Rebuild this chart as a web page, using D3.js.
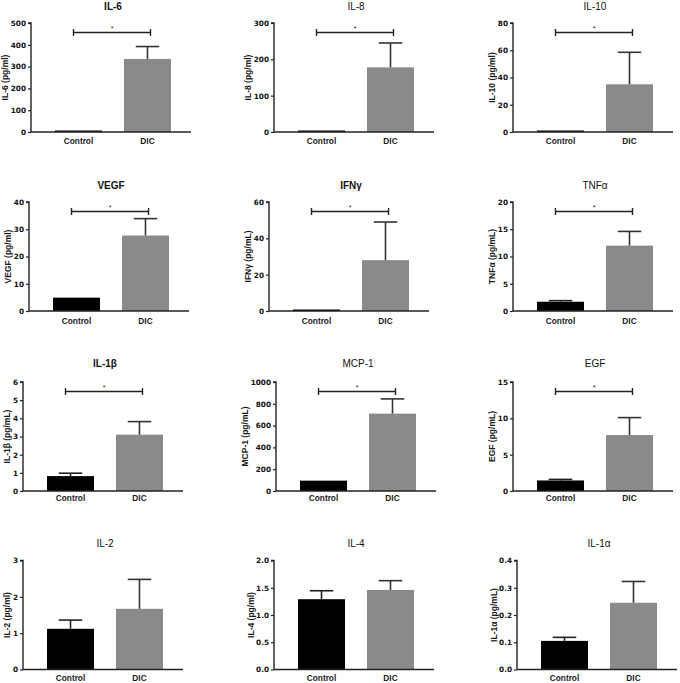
<!DOCTYPE html>
<html><head><meta charset="utf-8">
<script src="https://cdn.jsdelivr.net/npm/d3@7"></script>
<style>body{margin:0;background:#fff}svg{display:block}</style>
</head><body>
<svg id="chart" width="680" height="683"></svg>
<script>
// ---- data ----
const panelNames = ["IL-6","IL-8","IL-10","VEGF","IFNγ","TNFα","IL-1β","MCP-1","EGF","IL-2","IL-4","IL-1α"];
const yAxisLabels = ["IL-6  (pg/ml)","IL-8  (pg/ml)","IL-10  (pg/ml)","VEGF  (pg/ml)","IFNγ (pg/mL)","TNFα (pg/mL)","IL-1β (pg/mL)","MCP-1 (pg/mL)","EGF (pg/mL)","IL-2  (pg/ml)","IL-4  (pg/ml)","IL-1α (pg/mL)"];
const categories = ["Control","DIC"];
const controlMean = [3, 3, 1, 4.9, 0.3, 1.7, 0.82, 95, 1.45, 1.12, 1.29, 0.105];
const controlSem  = [0.5, 0.5, 0.2, 0.2, 0.1, 0.2, 0.16, 5, 0.15, 0.24, 0.155, 0.013];
const dicMean = [335, 178, 35, 27.7, 28, 12, 3.1, 710, 7.7, 1.67, 1.46, 0.245];
const dicSem  = [57, 67, 23.5, 6.2, 21, 2.6, 0.72, 135, 2.4, 0.81, 0.17, 0.078];
const yMax = [500, 300, 80, 40, 60, 20, 6, 1000, 15, 3, 2.0, 0.4];
const yTicks = [
  [0,100,200,300,400,500],
  [0,100,200,300],
  [0,20,40,60,80],
  [0,10,20,30,40],
  [0,20,40,60],
  [0,5,10,15,20],
  [0,1,2,3,4,5,6],
  [0,200,400,600,800,1000],
  [0,5,10,15],
  [0,1,2,3],
  [0.0,0.5,1.0,1.5,2.0],
  [0.0,0.1,0.2,0.3,0.4]
];
const tickDecimals = [0,0,0,0,0,0,0,0,0,0,1,1];
const significant = [true,true,true,true,true,true,true,true,true,false,false,false];
const boldTitle = [true,false,false,true,true,false,true,false,false,false,false,false];

// ---- layout ----
const axisXs = [31,274,513, 29,269,513, 23,276,513, 23,274,517];
const rowTop = [23, 202, 382, 560.5];
const rowBottom = [132, 311, 491, 669.5];
const titleY = [10, 189, 367, 547];
const xLabelY = [144, 324, 501, 681];
const axisLen = 160;
const font = "'Liberation Sans', Arial, sans-serif";
const tickFont = "'DejaVu Sans', sans-serif";
const dicColor = "#8a8a8a";
const ctlColor = "#000000";
const errColor = "#333333";

const svg = d3.select("#chart");

panelNames.forEach((name, i) => {
  const row = Math.floor(i / 3);
  const ax = axisXs[i];
  const top = rowTop[row], bot = rowBottom[row];
  const g = svg.append("g");

  const y = d3.scaleLinear().domain([0, yMax[i]]).range([bot, top]);
  const x = d3.scaleBand().domain(categories).range([ax, ax + 164])
    .paddingInner(0.319).paddingOuter(0.348);

  const means = [controlMean[i], dicMean[i]];
  const sems = [controlSem[i], dicSem[i]];
  const colors = [ctlColor, dicColor];

  // bars
  g.selectAll("rect.bar").data(categories).enter().append("rect")
    .attr("x", d => x(d))
    .attr("width", x.bandwidth())
    .attr("y", (d, k) => Math.min(y(means[k]), y(0) - 1.5))
    .attr("height", (d, k) => Math.max(1.5, y(0) - y(means[k])))
    .attr("fill", (d, k) => colors[k]);

  // error bars (upper only)
  categories.forEach((c, k) => {
    const cx = x(c) + x.bandwidth() / 2;
    const capW = x.bandwidth() * 0.25;
    const y1 = y(means[k]), y2 = y(means[k] + sems[k]);
    if (y1 - y2 < 1) return;
    g.append("line").attr("x1", cx).attr("x2", cx).attr("y1", y1).attr("y2", y2)
      .attr("stroke", k === 0 ? "#222" : errColor).attr("stroke-width", 1.6);
    g.append("line").attr("x1", cx - capW).attr("x2", cx + capW).attr("y1", y2).attr("y2", y2)
      .attr("stroke", k === 0 ? "#222" : errColor).attr("stroke-width", 1.6);
  });

  // y axis
  const yAxis = d3.axisLeft(y).tickValues(yTicks[i]).tickSize(3).tickPadding(2)
    .tickFormat(d3.format("." + tickDecimals[i] + "f"));
  const ya = g.append("g").attr("transform", `translate(${ax},0)`).call(yAxis);
  ya.select(".domain").attr("stroke", "#222").attr("stroke-width", 1.4).attr("d", `M-3,${top}H0V${bot}`);
  ya.selectAll(".tick line").attr("stroke", "#222").attr("stroke-width", 1.2);
  ya.selectAll(".tick text").attr("font-family", tickFont).attr("font-size", 7.3)
    .attr("font-weight", "bold").attr("fill", "#111");
  let maxW = 0;
  ya.selectAll(".tick text").each(function() { maxW = Math.max(maxW, this.getComputedTextLength()); });

  // x axis line
  g.append("line").attr("x1", ax).attr("x2", ax + axisLen).attr("y1", bot).attr("y2", bot)
    .attr("stroke", "#222").attr("stroke-width", 1.4);

  // x labels
  g.selectAll("text.xl").data(categories).enter().append("text")
    .attr("x", d => x(d) + x.bandwidth() / 2).attr("y", xLabelY[row])
    .attr("text-anchor", "middle").attr("font-family", font).attr("font-size", 8.3)
    .attr("font-weight", "bold").attr("fill", "#1a1a1a").text(d => d);

  // title
  g.append("text").attr("x", (x("Control") + x("DIC") + x.bandwidth()) / 2).attr("y", titleY[row])
    .attr("text-anchor", "middle").attr("font-family", font).attr("font-size", 10)
    .attr("font-weight", boldTitle[i] ? "bold" : "normal").attr("fill", "#111").text(name);

  // y label
  const lx = Math.max(5, ax - 5 - maxW - 5.5);
  g.append("text")
    .attr("transform", `translate(${lx},${(top + bot) / 2}) rotate(-90)`)
    .attr("text-anchor", "middle").attr("dominant-baseline", "central")
    .attr("font-family", font).attr("font-size", 8.5).attr("font-weight", "bold")
    .attr("fill", "#1a1a1a").text(yAxisLabels[i]);

  // significance bracket
  if (significant[i]) {
    const bx1 = x("Control") + x.bandwidth() / 2 - 5;
    const bx2 = x("DIC") + x.bandwidth() / 2 + 3;
    const by = top + 9.5;
    g.append("path").attr("d", `M${bx1},${by - 3.5}V${by + 3.5}M${bx1},${by}H${bx2}M${bx2},${by - 3.5}V${by + 3.5}`)
      .attr("stroke", "#222").attr("stroke-width", 1.4).attr("fill", "none");
    g.append("text").attr("x", (bx1 + bx2) / 2).attr("y", by - 1.5)
      .attr("text-anchor", "middle").attr("font-family", font).attr("font-size", 7)
      .attr("fill", "#222").text("*");
  }
});
</script>
</body></html>
